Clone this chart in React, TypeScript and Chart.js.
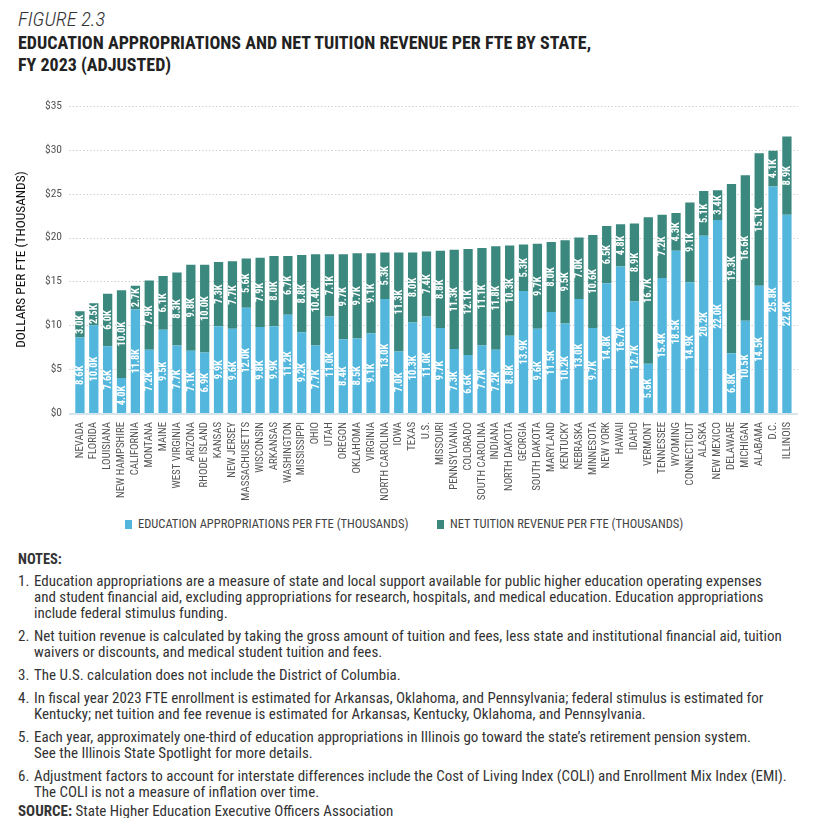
import React, { useEffect, useRef } from "react";
import { Chart, registerables } from "chart.js";

Chart.register(...registerables);

const states = [
  "NEVADA", "FLORIDA", "LOUISIANA", "NEW HAMPSHIRE", "CALIFORNIA", "MONTANA", "MAINE", "WEST VIRGINIA",
  "ARIZONA", "RHODE ISLAND", "KANSAS", "NEW JERSEY", "MASSACHUSETTS", "WISCONSIN", "ARKANSAS", "WASHINGTON",
  "MISSISSIPPI", "OHIO", "UTAH", "OREGON", "OKLAHOMA", "VIRGINIA", "NORTH CAROLINA", "IOWA", "TEXAS", "U.S.",
  "MISSOURI", "PENNSYLVANIA", "COLORADO", "SOUTH CAROLINA", "INDIANA", "NORTH DAKOTA", "GEORGIA", "SOUTH DAKOTA",
  "MARYLAND", "KENTUCKY", "NEBRASKA", "MINNESOTA", "NEW YORK", "HAWAII", "IDAHO", "VERMONT", "TENNESSEE",
  "WYOMING", "CONNECTICUT", "ALASKA", "NEW MEXICO", "DELAWARE", "MICHIGAN", "ALABAMA", "D.C.", "ILLINOIS",
];

const appropriations = [
  8.6, 10.0, 7.6, 4.0, 11.8, 7.2, 9.5, 7.7,
  7.1, 6.9, 9.9, 9.6, 12.0, 9.8, 9.9, 11.2,
  9.2, 7.7, 11.0, 8.4, 8.5, 9.1, 13.0, 7.0, 10.3, 11.0,
  9.7, 7.3, 6.6, 7.7, 7.2, 8.8, 13.9, 9.6,
  11.5, 10.2, 13.0, 9.7, 14.8, 16.7, 12.7, 5.6, 15.4,
  18.5, 14.9, 20.2, 22.0, 6.8, 10.5, 14.5, 25.8, 22.6,
];

const netTuition = [
  3.0, 2.5, 6.0, 10.0, 2.7, 7.9, 6.1, 8.3,
  9.8, 10.0, 7.3, 7.7, 5.6, 7.9, 8.0, 6.7,
  8.8, 10.4, 7.1, 9.7, 9.7, 9.1, 5.3, 11.3, 8.0, 7.4,
  8.8, 11.3, 12.1, 11.1, 11.8, 10.3, 5.3, 9.7,
  8.0, 9.5, 7.0, 10.6, 6.5, 4.8, 8.9, 16.7, 7.2,
  4.3, 9.1, 5.1, 3.4, 19.3, 16.6, 15.1, 4.1, 8.9,
];

const yTickValues = [0, 5, 10, 15, 20, 25, 30, 35];
const yTickLabels = ["$0", "$5", "$10", "$15", "$20", "$25", "$30", "$35"];

const seriesNames = [
  "EDUCATION APPROPRIATIONS PER FTE (THOUSANDS)",
  "NET TUITION REVENUE PER FTE (THOUSANDS)",
];

const noteLines: string[][] = [
  [
    "Education appropriations are a measure of state and local support available for public higher education operating expenses",
    "and student financial aid, excluding appropriations for research, hospitals, and medical education. Education appropriations",
    "include federal stimulus funding.",
  ],
  [
    "Net tuition revenue is calculated by taking the gross amount of tuition and fees, less state and institutional financial aid, tuition",
    "waivers or discounts, and medical student tuition and fees.",
  ],
  ["The U.S. calculation does not include the District of Columbia."],
  [
    "In fiscal year 2023 FTE enrollment is estimated for Arkansas, Oklahoma, and Pennsylvania; federal stimulus is estimated for",
    "Kentucky; net tuition and fee revenue is estimated for Arkansas, Kentucky, Oklahoma, and Pennsylvania.",
  ],
  [
    "Each year, approximately one-third of education appropriations in Illinois go toward the state\u2019s retirement pension system.",
    "See the Illinois State Spotlight for more details.",
  ],
  [
    "Adjustment factors to account for interstate differences include the Cost of Living Index (COLI) and Enrollment Mix Index (EMI).",
    "The COLI is not a measure of inflation over time.",
  ],
];

const FONT = '"Roboto Condensed", Roboto, "Liberation Sans", sans-serif';
const BLUE = "#53b6dd";
const TEAL = "#3a887e";

const gridPlugin = {
  id: "dottedGrid",
  beforeDatasetsDraw(chart: any) {
    const { ctx, chartArea, scales } = chart;
    const y = scales.y;
    ctx.save();
    ctx.strokeStyle = "#cfcfcf";
    ctx.lineWidth = 1;
    ctx.setLineDash([1.5, 2]);
    yTickValues.forEach((v) => {
      if (v === 0) return;
      const py = Math.round(y.getPixelForValue(v)) + 0.5;
      ctx.beginPath();
      ctx.moveTo(chartArea.left - 4, py);
      ctx.lineTo(chartArea.right + 4, py);
      ctx.stroke();
    });
    ctx.restore();
  },
  afterDatasetsDraw(chart: any) {
    const { ctx, chartArea, scales } = chart;
    const y0 = scales.y.getPixelForValue(0);
    ctx.save();
    ctx.strokeStyle = "#d6e5eb";
    ctx.lineWidth = 2;
    ctx.beginPath();
    ctx.moveTo(chartArea.left - 4, y0 + 1);
    ctx.lineTo(chartArea.right + 4, y0 + 1);
    ctx.stroke();

    ctx.fillStyle = "#ffffff";
    ctx.font = `bold 10.5px ${FONT}`;
    ctx.textAlign = "center";
    ctx.textBaseline = "middle";
    chart.data.datasets.forEach((ds: any, di: number) => {
      const meta = chart.getDatasetMeta(di);
      meta.data.forEach((bar: any, i: number) => {
        const p = bar.getProps(["x", "y", "base"], true);
        const cy = (p.y + p.base) / 2;
        ctx.save();
        ctx.translate(p.x, cy);
        ctx.rotate(-Math.PI / 2);
        ctx.fillText(Number(ds.data[i]).toFixed(1) + "K", 0, 0.5);
        ctx.restore();
      });
    });
    ctx.restore();
  },
};

function BarChart() {
  const ref = useRef<HTMLCanvasElement | null>(null);
  useEffect(() => {
    if (!ref.current) return;
    const chart = new Chart(ref.current, {
      type: "bar",
      data: {
        labels: states,
        datasets: [
          {
            label: seriesNames[0],
            data: appropriations,
            backgroundColor: BLUE,
            borderWidth: 0,
            barPercentage: 0.67,
            categoryPercentage: 1,
          },
          {
            label: seriesNames[1],
            data: netTuition,
            backgroundColor: TEAL,
            borderWidth: 0,
            barPercentage: 0.67,
            categoryPercentage: 1,
          },
        ],
      },
      options: {
        animation: false,
        responsive: false,
        maintainAspectRatio: false,
        layout: { padding: { top: 15, right: 13, left: 0, bottom: 0 } },
        plugins: {
          legend: { display: false },
          tooltip: { enabled: false },
        },
        scales: {
          x: {
            stacked: true,
            grid: { display: false, drawTicks: false },
            border: { display: false },
            ticks: {
              autoSkip: false,
              minRotation: 90,
              maxRotation: 90,
              padding: 9,
              color: "#555",
              font: { family: FONT, size: 10.8 },
            },
            afterFit: (s: any) => {
              s.height = 90;
            },
          },
          y: {
            stacked: true,
            min: 0,
            max: 35,
            afterBuildTicks: (s: any) => {
              s.ticks = yTickValues.map((v) => ({ value: v }));
            },
            ticks: {
              padding: 11,
              color: "#555",
              font: { family: FONT, size: 11.5 },
              callback: (v: any) => yTickLabels[yTickValues.indexOf(Number(v))],
            },
            grid: { display: false, drawTicks: false },
            border: { display: false },
            title: {
              display: true,
              text: "DOLLARS PER FTE (THOUSANDS)",
              color: "#111",
              font: { family: FONT, size: 13.3 },
              padding: { top: 6, bottom: 0 },
            },
            afterFit: (s: any) => {
              s.width = 65;
            },
          },
        },
      },
      plugins: [gridPlugin],
    } as any);
    return () => chart.destroy();
  }, []);
  return <canvas ref={ref} width={801} height={415} style={{ display: "block" }} />;
}

const legendColors = [BLUE, TEAL];
const legendLeft = [117, 429];

export default function App() {
  return (
    <div
      style={{
        position: "relative",
        width: 801,
        height: 810,
        overflow: "hidden",
        fontFamily: FONT,
        color: "#333",
      }}
    >
      <div
        style={{
          position: "absolute",
          left: 10,
          top: 0,
          fontSize: 20.5,
          lineHeight: "22px",
          fontStyle: "italic",
          fontWeight: 300,
          color: "#333",
          whiteSpace: "nowrap",
        }}
      >
        FIGURE 2.3
      </div>
      <div
        style={{
          position: "absolute",
          left: 10,
          top: 24,
          fontSize: 18,
          lineHeight: "22px",
          fontWeight: "bold",
          color: "#222",
          whiteSpace: "nowrap",
        }}
      >
        <div>EDUCATION APPROPRIATIONS AND NET TUITION REVENUE PER FTE BY STATE,</div>
        <div>FY 2023 (ADJUSTED)</div>
      </div>
      <div style={{ position: "absolute", left: 0, top: 80 }}>
        <BarChart />
      </div>
      {seriesNames.map((name, i) => (
        <div
          key={name}
          style={{
            position: "absolute",
            left: legendLeft[i],
            top: 510,
            height: 12,
            display: "flex",
            alignItems: "center",
            whiteSpace: "nowrap",
            fontSize: 12.5,
            lineHeight: "12px",
            color: "#444",
          }}
        >
          <span style={{ display: "inline-block", width: 7, height: 9, background: legendColors[i], marginRight: 6 }} />
          <span>{name}</span>
        </div>
      ))}
      <div
        style={{
          position: "absolute",
          left: 10,
          top: 544,
          fontSize: 15,
          lineHeight: "16px",
          color: "#333",
          whiteSpace: "nowrap",
        }}
      >
        <div style={{ fontWeight: "bold", fontSize: 14.5 }}>NOTES:</div>
        {noteLines.map((lines, i) => (
          <div key={i} style={{ display: "flex", marginTop: i === 0 ? 5 : 7 }}>
            <div style={{ width: 16 }}>{i + 1}.</div>
            <div>
              {lines.map((l, j) => (
                <div key={j}>{l}</div>
              ))}
            </div>
          </div>
        ))}
        <div style={{ marginTop: 3 }}>
          <span style={{ fontWeight: "bold" }}>SOURCE:</span> State Higher Education Executive Officers Association
        </div>
      </div>
    </div>
  );
}
